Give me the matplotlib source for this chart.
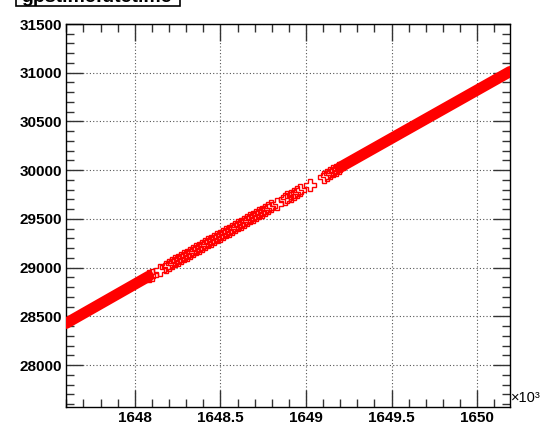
import numpy as np
import matplotlib
matplotlib.use("Agg")
import matplotlib.pyplot as plt
from matplotlib.patches import Rectangle
from matplotlib.ticker import MultipleLocator, FormatStrFormatter

plt.rcParams['font.family'] = ['Liberation Sans', 'DejaVu Sans']

# dense stretches of the scatter (gps time [s], utc time [s]) - start / end
dense_gps = [[1647598, 1648081], [1649200, 1650192]]
dense_utc = [[28428, 28911], [30030, 31012]]

# sparse markers in the middle
gps = [1648081, 1648098, 1648145, 1648181, 1648198, 1648216, 1648234, 1648251,
       1648269, 1648286, 1648304, 1648322, 1648339, 1648357, 1648375, 1648392,
       1648410, 1648428, 1648445, 1648463, 1648481, 1648498, 1648516, 1648534,
       1648551, 1648569, 1648586, 1648604, 1648622, 1648639, 1648657, 1648675,
       1648692, 1648710, 1648728, 1648745, 1648763, 1648781, 1648798, 1648828,
       1648875, 1648892, 1648910, 1648928, 1648945, 1648963, 1649022, 1649104,
       1649122, 1649139, 1649157, 1649175, 1649192]
utc = [28911, 28928, 28975, 29011, 29028, 29046, 29064, 29081,
       29099, 29116, 29134, 29152, 29169, 29187, 29205, 29222,
       29240, 29258, 29275, 29293, 29311, 29328, 29346, 29364,
       29381, 29399, 29416, 29434, 29452, 29469, 29487, 29505,
       29522, 29540, 29558, 29575, 29593, 29611, 29628, 29658,
       29705, 29722, 29740, 29758, 29775, 29793, 29852, 29934,
       29952, 29969, 29987, 30005, 30022]

fig = plt.figure(figsize=(5.43, 4.24), dpi=100)
ax = fig.add_axes([66/543, 1-407/424, (510-66)/543, (407-24)/424])

red = (1, 0, 0)
for gx, uy in zip(dense_gps, dense_utc):
    ax.plot(np.array(gx)/1e3, uy, color=red, lw=8, solid_capstyle='round', zorder=3)
ax.plot(np.array(gps)/1e3, utc, ls='none', marker='P', ms=8.5, mfc='none',
        mec=red, mew=1.0, zorder=3)

ax.set_xlim(1647.598, 1650.192)
ax.set_ylim(27570, 31500)

ax.xaxis.set_major_locator(MultipleLocator(0.5))
ax.xaxis.set_minor_locator(MultipleLocator(0.1))
ax.yaxis.set_major_locator(MultipleLocator(500))
ax.yaxis.set_minor_locator(MultipleLocator(100))
ax.xaxis.set_major_formatter(FormatStrFormatter('%g'))
ax.yaxis.set_major_formatter(FormatStrFormatter('%d'))

ax.tick_params(which='both', direction='in', top=True, right=True, color='#333333')
ax.tick_params(which='major', length=12, width=1.0, labelsize=11)
ax.tick_params(which='minor', length=6, width=1.0)
ax.tick_params(axis='x', which='major', pad=3)
ax.tick_params(axis='y', which='major', pad=3)
for lab in ax.get_xticklabels() + ax.get_yticklabels():
    lab.set_fontweight('bold')

ax.grid(True, which='major', color='#555555', ls=(0, (1, 2)), lw=0.8)
for s in ax.spines.values():
    s.set_linewidth(1.0)
    s.set_color('black')

fig.text(511/543, 1-398/424, '×10³', fontsize=10.5, ha='left', va='center')

# title box, cut off at the top
fig.patches.append(Rectangle((15.6/543, 1-6.2/424), (180-15.6)/543, 0.1,
                             transform=fig.transFigure, fill=True, fc='white',
                             ec='black', lw=1.2))
fig.text(97/543, 1-2/424, 'gpstime:utctime', fontsize=14, fontweight='bold',
         ha='center', va='baseline')

fig.savefig('out.png', dpi=100)
